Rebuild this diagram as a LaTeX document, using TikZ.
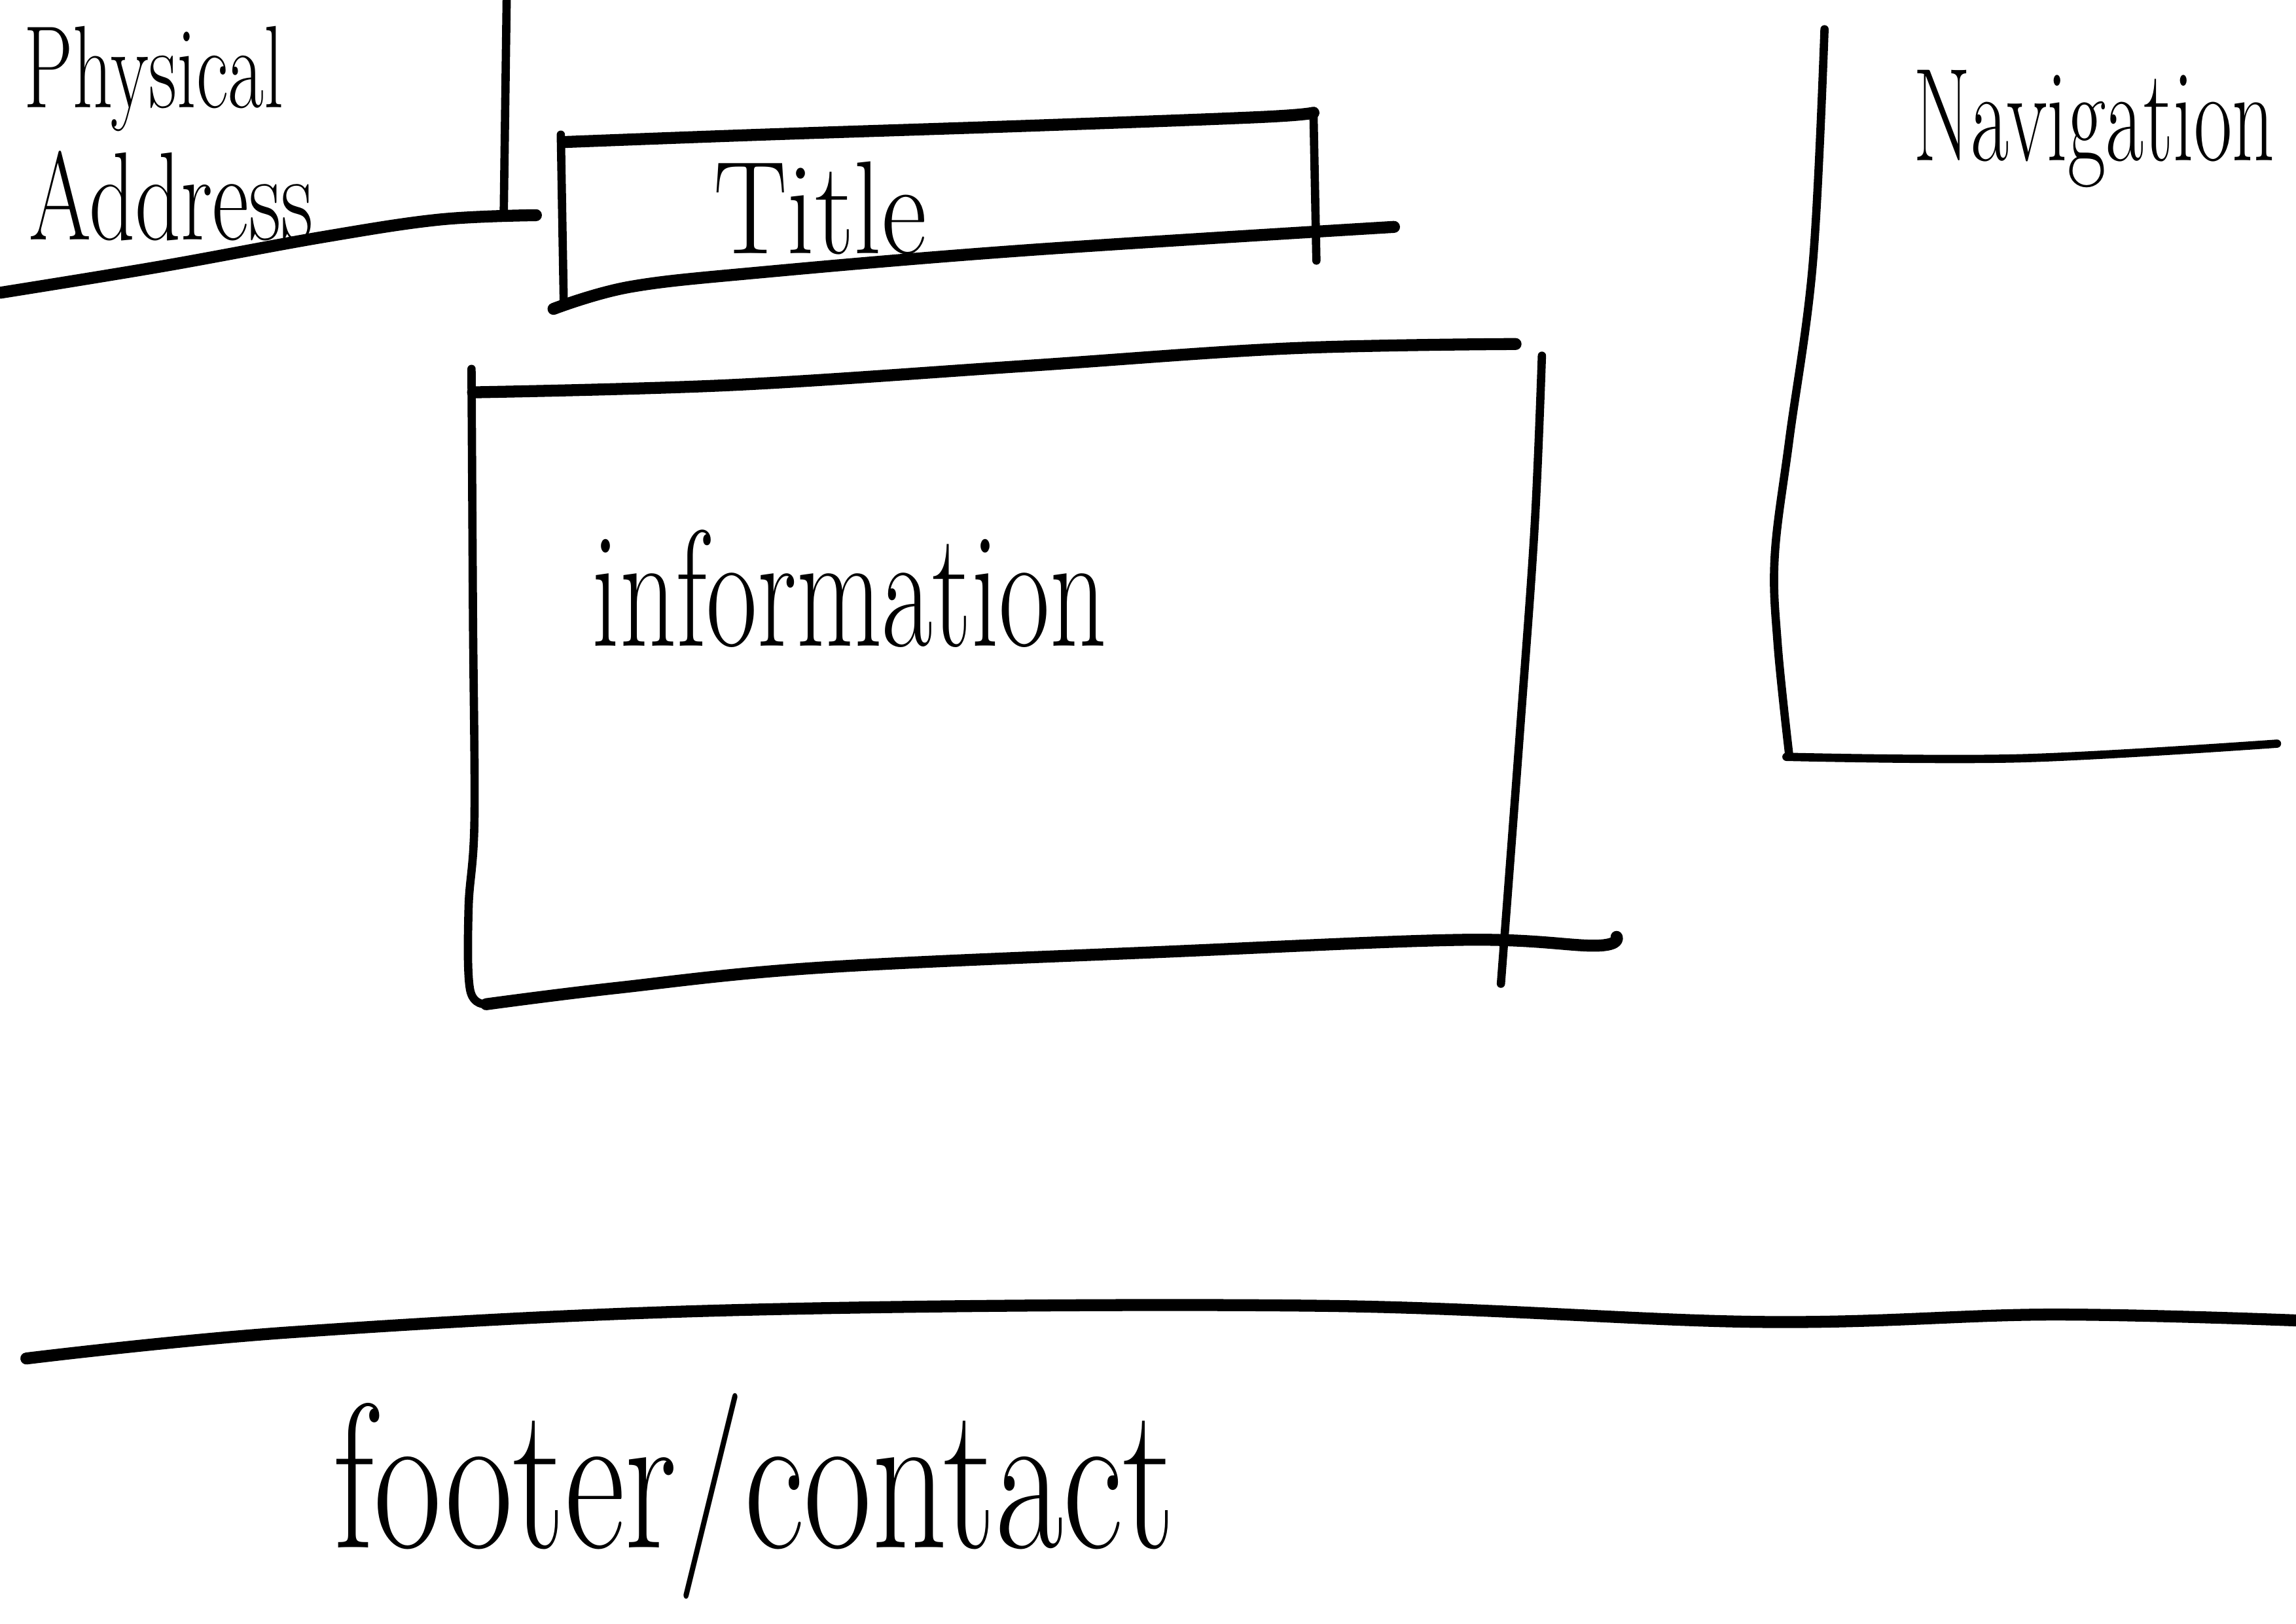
\documentclass[tikz,border=0pt]{standalone}
\usepackage{graphicx}
\begin{document}
\begin{tikzpicture}[x=0.022372cm,y=-0.022372cm,
  pen/.style={line width=5.2pt,line cap=round,line join=round},
  thinpen/.style={line width=3.6pt,line cap=round,line join=round},
  hand/.style={inner sep=0pt,anchor=center}]
\useasboundingbox[fill=white] (0,0) rectangle (1568,1109);

% physical address block
\draw[thinpen] (346,0) -- (344,148);
\draw[pen] plot[smooth,tension=0.6] coordinates {(0,200) (110,182) (220,162) (300,150) (366,147)};
\node[hand,font=\fontsize{34}{34}\selectfont] (phys) at (105,54) {\scalebox{1}[1.5]{Physical}};
\node[hand,font=\fontsize{39}{39}\selectfont] (addr) at (117,134) {\scalebox{1}[1.4]{Address}};

% title box
\draw[thinpen] (383,92) -- (385,208);
\draw[pen] plot[smooth,tension=0.6] coordinates {(386,97) (520,92) (700,86) (860,80) (897,77)};
\draw[thinpen] (897,77) -- (899,178);
\draw[pen] plot[smooth,tension=0.6] coordinates {(378,211) (430,196) (520,186) (700,171) (952,155)};
\node[hand,font=\fontsize{48}{48}\selectfont] (title) at (560,142) {\scalebox{1}[1.2]{Title}};

% information box
\draw[pen] plot[smooth,tension=0.6] coordinates {(323,268) (500,263) (700,250) (880,238) (1035,235)};
\draw[thinpen] plot[smooth,tension=0.6] coordinates {(322,252) (323,420) (324,560) (320,620) (321,676) (332,686)};
\draw[pen] plot[smooth,tension=0.6] coordinates {(332,686) (420,675) (560,661) (800,650) (1000,642) (1090,646) (1104,640)};
\draw[thinpen] plot[smooth,tension=0.6] coordinates {(1053,243) (1048,360) (1038,500) (1025,672)};
\node[hand,font=\fontsize{48}{48}\selectfont] (info) at (580,402) {\scalebox{1}[1.5]{information}};

% navigation
\draw[thinpen] plot[smooth,tension=0.6] coordinates {(1246,20) (1238,180) (1222,300) (1212,380) (1214,440) (1222,517)};
\draw[thinpen] plot[smooth,tension=0.6] coordinates {(1220,517) (1380,518) (1555,508)};
\node[hand,font=\fontsize{36}{36}\selectfont] (nav) at (1430,88) {\scalebox{1}[1.6]{Navigation}};

% footer
\draw[pen] plot[smooth,tension=0.6] coordinates {(18,928) (200,910) (500,895) (900,892) (1200,903) (1400,898) (1568,902)};
\node[hand,font=\fontsize{64}{64}\selectfont] (foot) at (515,1022) {\scalebox{1}[1.4]{footer/contact}};
\end{tikzpicture}
\end{document}
